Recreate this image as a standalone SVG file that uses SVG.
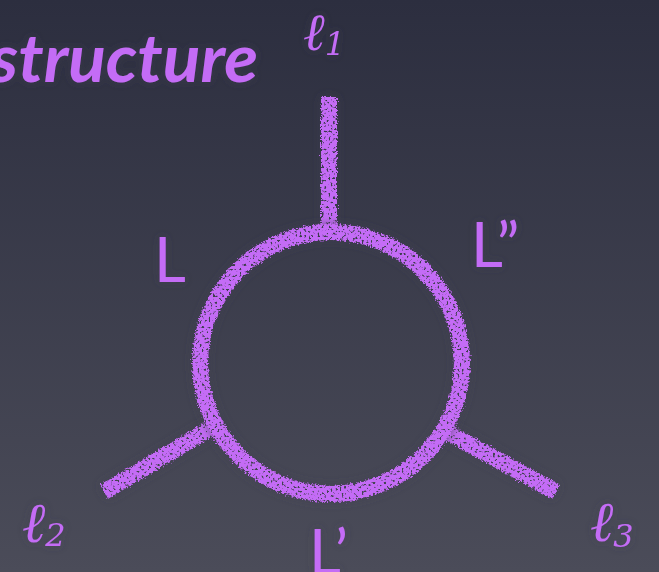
<svg xmlns="http://www.w3.org/2000/svg" width="659" height="572" viewBox="0 0 659 572">
  <defs>
    <linearGradient id="bg" x1="0" y1="0" x2="0" y2="1">
      <stop offset="0" stop-color="#2c2e3f"/>
      <stop offset="1" stop-color="#4b4c59"/>
    </linearGradient>
    <filter id="chalk" x="-10%" y="-10%" width="120%" height="120%">
      <feTurbulence type="fractalNoise" baseFrequency="0.6" numOctaves="2" seed="3" result="noise"/>
      <feDisplacementMap in="SourceGraphic" in2="noise" scale="6" xChannelSelector="R" yChannelSelector="G" result="rough"/>
      <feTurbulence type="fractalNoise" baseFrequency="0.45" numOctaves="1" seed="8" result="n2"/>
      <feColorMatrix in="n2" type="matrix" values="0 0 0 0 0  0 0 0 0 0  0 0 0 0 0  0 0 0 -9 6.2" result="mask"/>
      <feComposite in="rough" in2="mask" operator="in" result="chalky"/>
      <feGaussianBlur in="SourceAlpha" stdDeviation="5" result="blur"/>
      <feColorMatrix in="blur" type="matrix" values="0 0 0 0 0.05  0 0 0 0 0.05  0 0 0 0 0.08  0 0 0 0.6 0" result="shadow"/>
      <feMerge>
        <feMergeNode in="shadow"/>
        <feMergeNode in="chalky"/>
      </feMerge>
    </filter>
    <filter id="glow" x="-30%" y="-30%" width="160%" height="160%">
      <feGaussianBlur in="SourceAlpha" stdDeviation="4" result="blur"/>
      <feColorMatrix in="blur" type="matrix" values="0 0 0 0 0.05  0 0 0 0 0.05  0 0 0 0 0.08  0 0 0 0.55 0" result="shadow"/>
      <feMerge>
        <feMergeNode in="shadow"/>
        <feMergeNode in="SourceGraphic"/>
      </feMerge>
    </filter>
  </defs>
  <style>
    .chalk { fill: none; stroke: #c46cf6; stroke-width: 16; stroke-linecap: butt; }
    .lbl { fill: #c46cf6; font-family: Lato, "Open Sans", "DejaVu Sans", sans-serif; font-size: 62px; }
    .scr { fill: #c46cf6; font-family: "DejaVu Serif", serif; font-style: italic; }
    .title { fill: #c46cf6; font-family: Lato, "Open Sans", sans-serif; font-weight: 700; font-style: italic; font-size: 66px; }
  </style>
  <rect x="0" y="0" width="659" height="572" fill="url(#bg)"/>

  <g id="title" filter="url(#glow)">
    <text class="title" x="-10" y="82" textLength="268" lengthAdjust="spacingAndGlyphs">structure</text>
  </g>

  <g id="connectors" filter="url(#chalk)">
    <line class="chalk" x1="329" y1="97" x2="329" y2="230"/>
    <line class="chalk" x1="211" y1="428" x2="104" y2="492"/>
    <line class="chalk" x1="447" y1="432" x2="556" y2="492"/>
  </g>
  <g id="loop" filter="url(#chalk)">
    <circle class="chalk" cx="331" cy="363" r="131"/>
  </g>

  <g id="label-l1" filter="url(#glow)">
    <text class="scr" x="303" y="50" font-size="52">ℓ<tspan font-size="32" dy="5">1</tspan></text>
  </g>
  <g id="label-l2" filter="url(#glow)">
    <text class="scr" x="22" y="542" font-size="56">ℓ<tspan font-size="32" dy="4">2</tspan></text>
  </g>
  <g id="label-l3" filter="url(#glow)">
    <text class="scr" x="590" y="541" font-size="56">ℓ<tspan font-size="32" dy="6">3</tspan></text>
  </g>
  <g id="label-L" filter="url(#glow)">
    <text class="lbl" x="154" y="282">L</text>
  </g>
  <g id="label-Lpp" filter="url(#glow)">
    <text class="lbl" x="471" y="267">L”</text>
  </g>
  <g id="label-Lp" filter="url(#glow)">
    <text class="lbl" x="309" y="574">L’</text>
  </g>
</svg>
